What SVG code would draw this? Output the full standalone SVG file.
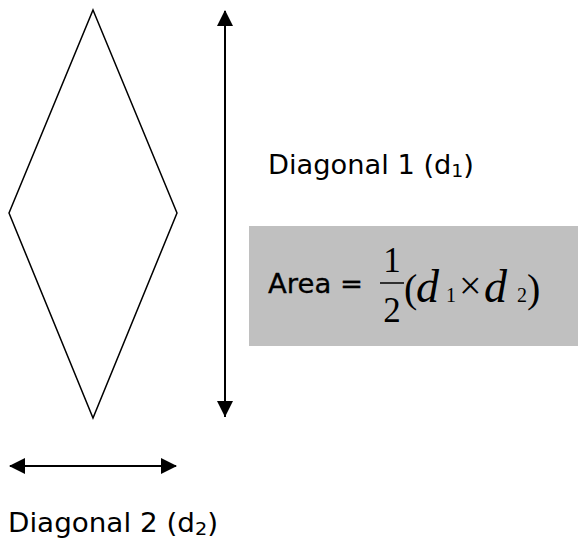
<svg xmlns="http://www.w3.org/2000/svg" width="578" height="546" viewBox="0 0 578 546">
<style>
.lbl{font-family:"DejaVu Sans","Liberation Sans",sans-serif;font-size:26px;fill:#000}
.math{font-family:"Liberation Serif","Times New Roman",serif;fill:#000}
</style>
<rect width="578" height="546" fill="#fff"/>
<g id="rhombus">
<polygon points="93,10 177,213 93,418 9,213" fill="#fff" stroke="#000" stroke-width="1.5"/>
</g>
<g id="connectors">
<line x1="225" y1="11" x2="225" y2="417" stroke="#000" stroke-width="2"/>
<polygon points="225,10 217,26 233,26" fill="#000"/>
<polygon points="225,417 217,401 233,401" fill="#000"/>
<line x1="10" y1="466" x2="176" y2="466" stroke="#000" stroke-width="2"/>
<polygon points="9,466 25,458 25,474" fill="#000"/>
<polygon points="177,466 161,458 161,474" fill="#000"/>
</g>
<g id="label-d1">
<text class="lbl" x="268" y="174" textLength="206" lengthAdjust="spacingAndGlyphs">Diagonal 1 (d<tspan font-size="18" dy="3">1</tspan><tspan dy="-3">)</tspan></text>
</g>
<g id="area-box">
<rect x="249" y="226" width="329" height="120" fill="#c0c0c0"/>
<text class="lbl" x="268" y="293" textLength="95" lengthAdjust="spacingAndGlyphs" stroke="#000" stroke-width="0.3">Area =</text>
<text class="math" x="392" y="272" font-size="35" text-anchor="middle">1</text>
<line x1="380" y1="283" x2="404" y2="283" stroke="#000" stroke-width="1.5"/>
<text class="math" x="392" y="322" font-size="35" text-anchor="middle">2</text>
<text class="math" x="404" y="302" font-size="40">(</text>
<text class="math" x="416" y="302" font-size="46" font-style="italic">d</text>
<text class="math" x="446" y="302" font-size="20">1</text>
<text class="math" x="459" y="299" font-size="40">×</text>
<text class="math" x="484" y="302" font-size="46" font-style="italic">d</text>
<text class="math" x="517" y="302" font-size="20">2</text>
<text class="math" x="527" y="302" font-size="40">)</text>
</g>
<g id="label-d2">
<text class="lbl" x="8" y="532" textLength="210" lengthAdjust="spacingAndGlyphs">Diagonal 2 (d<tspan font-size="18" dy="3">2</tspan><tspan dy="-3">)</tspan></text>
</g>
</svg>
